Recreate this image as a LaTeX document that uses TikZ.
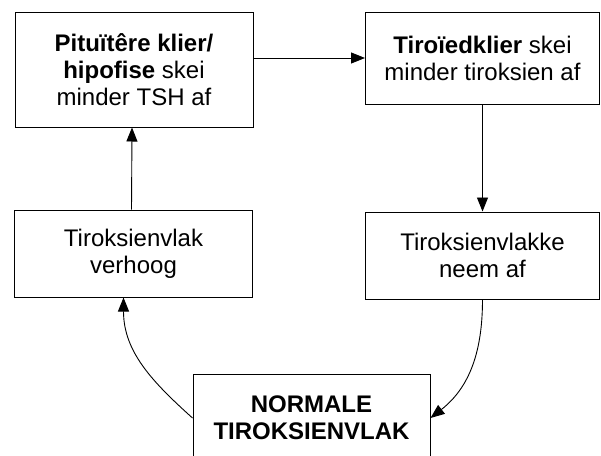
\documentclass[tikz,border=0pt]{standalone}
\usepackage{fontspec}
\setmainfont{Liberation Sans}
\usetikzlibrary{arrows.meta}

\tikzset{
  box/.style={rectangle, draw, line width=1pt, minimum width=238pt, inner sep=0pt, align=center,
    font=\fontsize{24}{27}\selectfont},
}

\begin{document}
\begin{tikzpicture}[x=1pt, y=1pt, >={Triangle[length=14pt,width=11pt]}, line width=0.9pt]
\useasboundingbox (0,0) rectangle (601,-455);
\node (pit) [box, minimum height=115pt] at (134,-69.5) {\textbf{Pituïtêre klier/}\\\textbf{hipofise} skei\\minder TSH af};
\node (tir) [box, minimum width=234pt, minimum height=92pt] at (482.5,-58) {\textbf{Tiroïedklier} skei\\minder tiroksien af};
\node (op) [box, minimum height=87pt] at (133.5,-253.5) {Tiroksienvlak\\verhoog};
\node (af) [box, minimum width=234pt, minimum height=87pt] at (482.5,-255.5) {Tiroksienvlakke\\neem af};
\node (norm) [box, minimum width=237pt, minimum height=88pt] at (311.5,-418) {\textbf{NORMALE}\\\textbf{TIROKSIENVLAK}};

\draw [->] (pit.east |- tir.west) -- (tir.west);
\draw [->] (tir) -- (af);
\draw [->] (af.south) to[out=-90, in=38] (norm.east);
\draw [->] (norm.west) to[out=138, in=-90] ([xshift=-10pt]op.south);
\draw [->] ([xshift=-2pt]op.north) -- ([xshift=-2pt]pit.south);
\end{tikzpicture}
\end{document}
